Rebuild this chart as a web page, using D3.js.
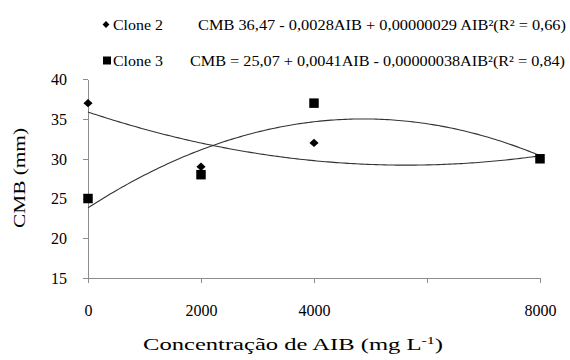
<!DOCTYPE html>
<html>
<head>
<meta charset="utf-8">
<script src="https://cdn.jsdelivr.net/npm/d3@7"></script>
<style>
  html, body { margin: 0; padding: 0; background: #fff; }
  svg { display: block; }
</style>
</head>
<body>
<svg id="chart" width="570" height="360"></svg>
<script>
// Concentrations of AIB (mg L-1) and measured CMB (mm) per clone
const concentrations = [0, 2000, 4000, 8000];
const clone2 = [37, 29, 32, 30];
const clone3 = [25, 28, 37, 30];
const xTicks = [0, 2000, 4000, 6000, 8000];
const xTickLabels = ["0", "2000", "4000", "", "8000"];
const yTicks = [15, 20, 25, 30, 35, 40];
const legendNames = ["Clone 2", "Clone 3"];
const equations = [
  "CMB 36,47 - 0,0028AIB + 0,00000029 AIB²(R² = 0,66)",
  "CMB = 25,07 + 0,0041AIB - 0,00000038AIB²(R² = 0,84)"
];

const FONT = "'Liberation Serif', 'Times New Roman', 'DejaVu Serif', serif";
const svg = d3.select("#chart");
const x = d3.scaleLinear().domain([0, 8000]).range([88, 540]);
const y = d3.scaleLinear().domain([15, 40]).range([278, 79.3]);
const axisColor = "#8c8c8c";

// Least-squares quadratic fit y = a + b*t + c*t^2 (t in thousands)
function quadFit(xs, ys) {
  const t = xs.map(v => v / 1000);
  const S = k => d3.sum(t, v => Math.pow(v, k));
  const Sy = k => d3.sum(t, (v, i) => Math.pow(v, k) * ys[i]);
  const M = [[S(0), S(1), S(2), Sy(0)],
             [S(1), S(2), S(3), Sy(1)],
             [S(2), S(3), S(4), Sy(2)]];
  for (let i = 0; i < 3; i++) {
    for (let j = i + 1; j < 3; j++) {
      const f = M[j][i] / M[i][i];
      for (let k = i; k < 4; k++) M[j][k] -= f * M[i][k];
    }
  }
  const c = M[2][3] / M[2][2];
  const b = (M[1][3] - M[1][2] * c) / M[1][1];
  const a = (M[0][3] - M[0][1] * b - M[0][2] * c) / M[0][0];
  return v => { const s = v / 1000; return a + b * s + c * s * s; };
}

// Axes
const xAxis = d3.axisBottom(x).tickValues(xTicks).tickSize(5).tickSizeOuter(0)
  .tickFormat((d, i) => xTickLabels[i]);
const gx = svg.append("g").attr("transform", `translate(0,${y(15)})`).call(xAxis)
  .attr("font-family", null).attr("font-size", null);
gx.select(".domain").attr("stroke", axisColor);
gx.selectAll(".tick line").attr("stroke", axisColor);
gx.selectAll(".tick text").attr("dy", 0).attr("y", 38)
  .style("font-family", FONT).style("font-size", "16px");

const yAxis = d3.axisLeft(y).tickValues(yTicks).tickSize(5).tickSizeOuter(0);
const gy = svg.append("g").attr("transform", `translate(${x(0)},0)`).call(yAxis)
  .attr("font-family", null).attr("font-size", null);
gy.select(".domain").attr("stroke", axisColor);
gy.selectAll(".tick line").attr("stroke", axisColor);
gy.selectAll(".tick text").attr("x", -21).attr("dy", "0.34em")
  .style("font-family", FONT).style("font-size", "16px");
svg.selectAll(".domain, .tick line").attr("shape-rendering", "crispEdges");

// Trend curves
const samples = d3.range(0, 8001, 50);
[clone2, clone3].forEach(vals => {
  const f = quadFit(concentrations, vals);
  svg.append("path")
    .datum(samples)
    .attr("fill", "none")
    .attr("stroke", "#333")
    .attr("stroke-width", 1.1)
    .attr("d", d3.line().x(d => x(d)).y(d => y(f(d))));
});

// Markers
const diamond = d3.symbol().type(d3.symbolDiamond2).size(44);
const square = d3.symbol().type(d3.symbolSquare).size(90);
svg.append("g").selectAll("path").data(concentrations).join("path")
  .attr("d", diamond)
  .attr("transform", (d, i) => `translate(${x(d)},${y(clone2[i])}) scale(1.1,1)`)
  .attr("fill", "#000");
svg.append("g").selectAll("path").data(concentrations).join("path")
  .attr("d", square)
  .attr("transform", (d, i) => `translate(${x(d)},${y(clone3[i])})`)
  .attr("fill", "#000");

// Legend with regression equations
const label = (sel, px) => sel.style("font-family", FONT).style("font-size", px + "px").attr("fill", "#000");
const legend = svg.append("g");
legend.append("path").attr("d", d3.symbol().type(d3.symbolDiamond2).size(30))
  .attr("transform", "translate(106,24.5)").attr("fill", "#000");
legend.append("path").attr("d", d3.symbol().type(d3.symbolSquare).size(64))
  .attr("transform", "translate(107,60.5)").attr("fill", "#000");
legend.append("text").attr("x", 113).attr("y", 29.5).call(label, 15)
  .attr("textLength", 50).attr("lengthAdjust", "spacingAndGlyphs").text(legendNames[0]);
legend.append("text").attr("x", 113).attr("y", 66).call(label, 15)
  .attr("textLength", 50).attr("lengthAdjust", "spacingAndGlyphs").text(legendNames[1]);
legend.append("text").attr("x", 198).attr("y", 29.5).call(label, 15)
  .attr("textLength", 368).attr("lengthAdjust", "spacingAndGlyphs").text(equations[0]);
legend.append("text").attr("x", 190).attr("y", 66).call(label, 15)
  .attr("textLength", 375).attr("lengthAdjust", "spacingAndGlyphs").text(equations[1]);

// Axis titles
const xt = svg.append("text").attr("x", 143).attr("y", 350).call(label, 17);
xt.append("tspan").text("Concentração de AIB (mg L");
xt.append("tspan").style("font-size", "11px").attr("dy", -6).text("-1");
xt.append("tspan").attr("dy", 6).text(")");
xt.attr("textLength", 300).attr("lengthAdjust", "spacingAndGlyphs");

svg.append("text")
  .attr("transform", "translate(25,178) rotate(-90)")
  .attr("text-anchor", "middle")
  .call(label, 17)
  .attr("textLength", 100).attr("lengthAdjust", "spacingAndGlyphs")
  .text("CMB (mm)");
</script>
</body>
</html>
